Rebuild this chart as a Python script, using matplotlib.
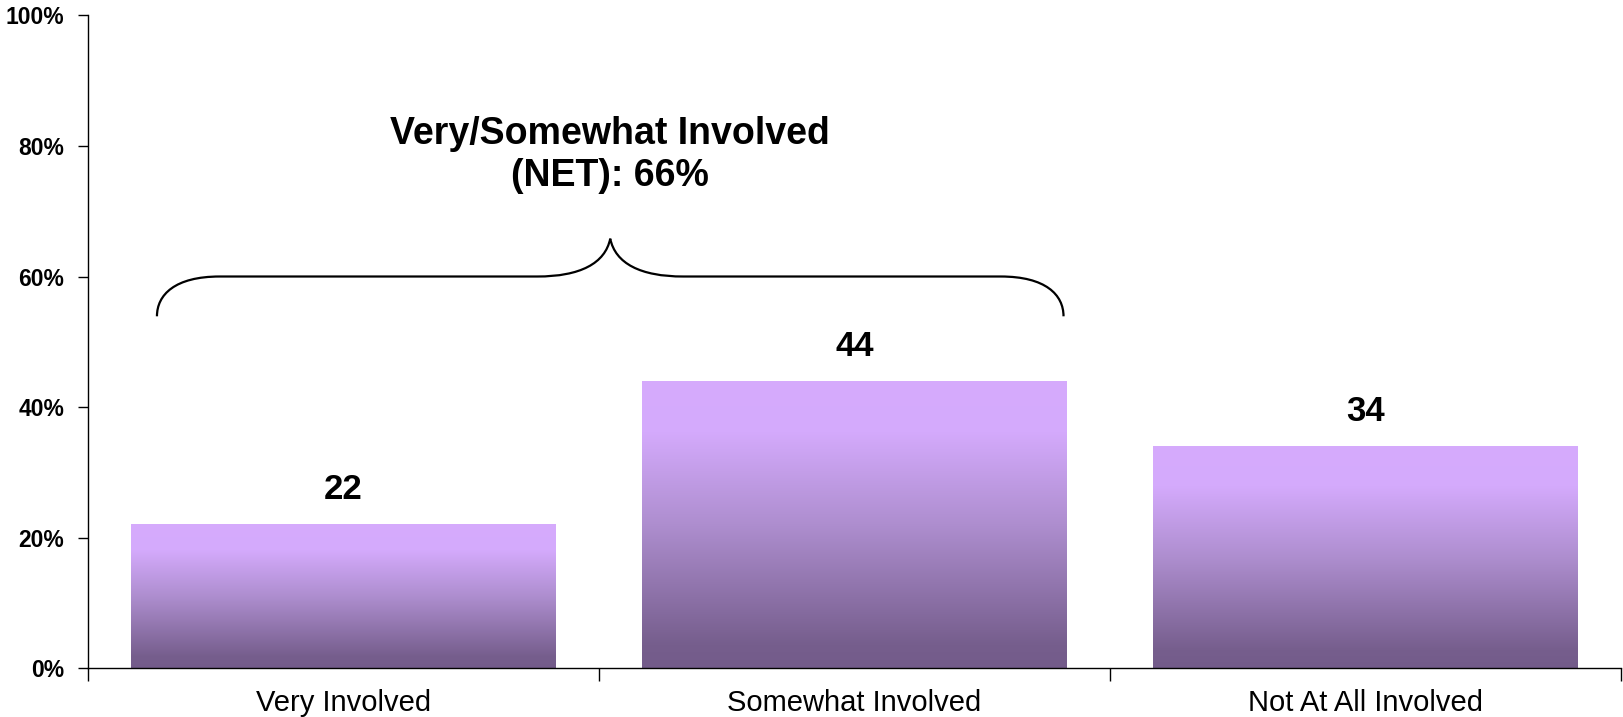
import numpy as np
import matplotlib
matplotlib.use("Agg")
import matplotlib.pyplot as plt
from matplotlib.colors import LinearSegmentedColormap
from matplotlib.path import Path
from matplotlib.patches import PathPatch

plt.rcParams["font.family"] = ["Liberation Sans", "DejaVu Sans"]

# Involvement shares (%)
categories = ["Very Involved", "Somewhat Involved", "Not At All Involved"]
values = [22, 44, 34]
net_label = "Very/Somewhat Involved\n(NET): 66%"
yticks = [0, 20, 40, 60, 80, 100]

fig = plt.figure(figsize=(16.23, 7.17), dpi=100)
ax = fig.add_axes([0.0542, 0.0683, 0.9446, 0.9101])

x = np.arange(len(categories))
bars = ax.bar(x, values, width=0.83, color="none", edgecolor="none")

# vertical purple gradient inside each bar
purple = LinearSegmentedColormap.from_list(
    "purple_fade",
    [(0.0, "#735B8A"), (0.08, "#765E8D"), (0.5, "#AE8ECF"),
     (0.82, "#D4AAFC"), (1.0, "#D6ABFD")])
grad = np.linspace(0, 1, 256).reshape(-1, 1)
for bar in bars:
    x0, w, h = bar.get_x(), bar.get_width(), bar.get_height()
    im = ax.imshow(grad, extent=[x0, x0 + w, 0, h], origin="lower",
                   aspect="auto", cmap=purple, zorder=2)
    im.set_clip_path(bar)
    ax.text(bar.get_x() + w / 2, h + 5.3, str(int(h)), ha="center",
            va="center", fontsize=25, fontweight="bold")

ax.set_xlim(-0.5, len(categories) - 0.5)
ax.set_ylim(0, 100)

# curly brace over the first two bars
left, right = -0.365, 1.409
mid = (left + right) / 2
flat, foot, peak = 60, 53.9, 65.8
verts = [
    (left, foot), (left, 57.2), (left + 0.035, flat), (left + 0.123, flat),
    (mid - 0.143, flat),
    (mid - 0.059, flat), (mid - 0.01, 62), (mid, peak),
    (mid + 0.01, 62), (mid + 0.059, flat), (mid + 0.143, flat),
    (right - 0.123, flat),
    (right - 0.035, flat), (right, 57.2), (right, foot),
]
codes = [Path.MOVETO, Path.CURVE4, Path.CURVE4, Path.CURVE4,
         Path.LINETO,
         Path.CURVE4, Path.CURVE4, Path.CURVE4,
         Path.CURVE4, Path.CURVE4, Path.CURVE4,
         Path.LINETO,
         Path.CURVE4, Path.CURVE4, Path.CURVE4]
ax.add_patch(PathPatch(Path(verts, codes), fill=False, lw=1.6,
                       edgecolor="black", zorder=3))
ax.text(mid, 78.6, net_label, ha="center", va="center", fontsize=27,
        fontweight="bold", linespacing=1.2)

# axes styling
ax.set_yticks(yticks)
ax.set_yticklabels([f"{t}%" for t in yticks], fontsize=16.5, fontweight="bold")
ax.set_xticks(x)
ax.set_xticklabels(categories, fontsize=21)
ax.tick_params(axis="x", length=0, pad=15)
ax.set_xticks(np.arange(-0.5, len(categories)), minor=True)
ax.tick_params(axis="x", which="minor", length=9, width=1, direction="out")
ax.tick_params(axis="y", length=7, width=1, direction="out", pad=10)
for side in ["top", "right"]:
    ax.spines[side].set_visible(False)
for side in ["left", "bottom"]:
    ax.spines[side].set_linewidth(1)

fig.savefig("out.png", dpi=100, facecolor="white")
